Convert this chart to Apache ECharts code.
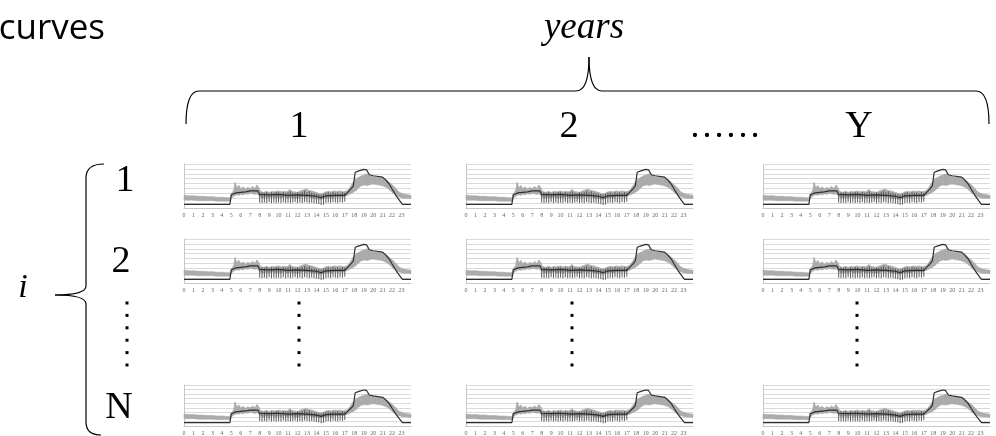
<!DOCTYPE html>
<html>
<head>
<meta charset="utf-8">
<script src="https://cdn.jsdelivr.net/npm/echarts@6/dist/echarts.min.js"></script>
<style>
html,body{margin:0;padding:0;background:#fff;}
#c{width:996px;height:436px;}
</style>
</head>
<body>
<div id="c"></div>
<script>
// ---- data (same profile drawn in every small panel) ----
var hourTicks = [0,1,2,3,4,5,6,7,8,9,10,11,12,13,14,15,16,17,18,19,20,21,22,23];
var columnLabels = ['1', '2', 'Y'];
var rowLabels = ['1', '2', 'N'];

// grey band of measured curves: hour, lower, upper
var bandHour = [0,0.5,1,1.5,2,2.5,3,3.5,4,4.5,4.9,5.0,5.25,5.4,5.6,5.8,6.0,6.25,6.5,6.75,7.0,7.25,7.5,7.7,7.9,8.1,8.4,8.7,9.0,9.3,9.6,10.0,10.3,10.6,10.9,11.2,11.4,11.7,12.0,12.3,12.6,12.9,13.2,13.5,13.8,14.1,14.4,14.7,15.0,15.3,15.6,15.9,16.2,16.5,16.8,17.0,17.3,17.6,17.9,18.2,18.5,18.8,19.1,19.4,19.7,20.0,20.3,20.6,20.9,21.2,21.5,21.8,22.1,22.4,22.7,23.0,23.3,23.6,24.0];
var bandLow  = [1.6,1.6,1.6,1.5,1.5,1.5,1.5,1.4,1.4,1.4,1.4,2.0,2.4,2.6,2.7,2.6,2.8,2.7,2.9,2.8,3.0,2.9,2.8,2.9,2.6,2.2,2.1,2.2,2.1,2.3,2.1,2.2,2.1,2.3,2.1,2.2,2.2,2.1,2.0,2.2,2.3,2.2,2.3,2.1,2.0,1.9,1.8,1.9,2.1,2.2,2.1,2.3,2.2,2.3,2.2,2.4,2.6,2.9,3.2,3.6,4.2,4.6,4.7,4.6,4.8,4.9,4.8,4.7,4.6,4.4,4.1,3.6,3.0,2.6,2.3,2.1,2.0,2.0,1.9];
var bandHigh = [2.6,2.5,2.5,2.4,2.4,2.3,2.3,2.2,2.2,2.1,2.1,2.9,3.6,5.2,4.2,4.6,4.0,4.3,3.9,4.2,4.0,4.4,4.0,4.7,4.2,3.4,3.2,3.4,3.2,3.4,3.3,3.5,3.3,3.4,3.3,3.8,3.4,3.3,3.2,3.5,3.7,3.9,3.6,3.5,3.3,3.1,2.9,3.0,3.3,3.4,3.3,3.5,3.4,3.5,3.3,3.4,3.6,4.4,5.3,6.0,6.3,6.6,6.8,7.0,6.6,6.4,6.3,6.3,6.2,5.9,5.6,5.1,4.6,4.0,3.3,3.0,2.8,2.7,2.6];

// dark vertical spread marks during the day: hour, low, high
var spreadHour = [8.0,8.25,8.5,8.75,9.0,9.25,9.5,9.75,10.0,10.25,10.5,10.75,11.0,11.25,11.5,11.75,12.0,12.25,12.5,12.75,13.0,13.25,13.5,13.75,14.0,14.25,14.5,14.75,15.0,15.25,15.5,15.75,16.0,16.25,16.5,16.75,17.0];
var spreadLow  = [1.1,1.0,1.1,1.0,1.2,1.0,1.1,1.0,1.1,1.0,1.2,1.0,1.1,1.0,1.1,1.2,1.0,1.1,1.0,1.2,1.1,1.0,1.1,1.0,0.9,0.8,0.6,0.7,1.0,1.1,1.0,1.2,1.1,1.0,1.2,1.1,1.3];
var spreadHigh = [3.0,3.2,3.1,3.3,3.0,3.2,3.1,3.3,3.2,3.0,3.3,3.1,3.2,3.4,3.1,3.0,3.2,3.1,3.3,3.5,3.2,3.4,3.1,3.0,2.9,2.8,2.7,2.9,3.1,3.2,3.0,3.3,3.1,3.2,3.0,3.3,3.1];

// black profile: hour, value
var lineHour  = [0,4.85,5.0,5.5,6.5,7.0,7.8,8.0,9.0,10.0,11.0,12.0,13.0,14.0,14.5,15.0,16.0,17.0,17.3,17.7,17.9,18.1,18.5,19.0,19.3,19.6,20.0,21.0,21.3,21.7,22.0,22.4,22.8,23.1,24.0];
var lineValue = [0.75,0.75,2.7,3.1,3.3,3.5,3.5,2.8,2.7,2.8,2.6,2.7,2.6,2.4,2.1,2.5,2.6,2.6,3.2,4.0,4.5,7.3,7.6,7.9,7.8,6.8,6.6,6.3,5.8,4.9,3.9,2.6,1.5,0.75,0.75];

// ---- layout ----
var colLeft = [184, 466, 763];
var rowTop = [164, 239, 385];
var panelW = 227, panelH = 44;

var bandSegs = [];
for (var i = 0; i < bandHour.length - 1; i++) {
  bandSegs.push([bandHour[i], bandLow[i], bandHigh[i], bandHour[i+1], bandLow[i+1], bandHigh[i+1]]);
}
var spreadData = spreadHour.map(function(h, i){ return [h, spreadLow[i], spreadHigh[i]]; });
var lineData = lineHour.map(function(h, i){ return [h, lineValue[i]]; });

var grids = [], xAxes = [], yAxes = [], series = [];
var g = 0;
for (var r = 0; r < 3; r++) {
  for (var c = 0; c < 3; c++) {
    grids.push({left: colLeft[c], top: rowTop[r], width: panelW, height: panelH});
    xAxes.push({
      gridIndex: g, type: 'value', min: 0, max: 24, interval: 1,
      axisLine: {show: true, lineStyle: {color: '#c8c8c8', width: 1}},
      axisTick: {show: false},
      splitLine: {show: false},
      axisLabel: {
        fontSize: 6, fontFamily: '"Liberation Serif", "DejaVu Serif", serif', color: '#666', margin: 4,
        formatter: function(v){ return v < 24 ? String(v) : ''; }
      }
    });
    yAxes.push({
      gridIndex: g, type: 'value', min: 0, max: 9, interval: 1,
      axisLine: {show: true, lineStyle: {color: '#c8c8c8', width: 1}},
      axisTick: {show: false},
      axisLabel: {show: false},
      splitLine: {show: true, lineStyle: {color: '#dadada', width: 1}}
    });
    series.push({
      type: 'custom', xAxisIndex: g, yAxisIndex: g, silent: true,
      data: bandSegs,
      encode: {x: [0, 3], y: [1, 2, 4, 5]},
      renderItem: function(params, api) {
        var a = api.coord([api.value(0), api.value(1)]);
        var b = api.coord([api.value(3), api.value(4)]);
        var cc = api.coord([api.value(3), api.value(5)]);
        var d = api.coord([api.value(0), api.value(2)]);
        return {type: 'polygon', shape: {points: [a, b, cc, d]},
          style: {fill: '#ababab', stroke: '#ababab', lineWidth: 0.6}};
      }
    });
    series.push({
      type: 'custom', xAxisIndex: g, yAxisIndex: g, silent: true,
      data: spreadData,
      encode: {x: 0, y: [1, 2]},
      renderItem: function(params, api) {
        var p1 = api.coord([api.value(0), api.value(1)]);
        var p2 = api.coord([api.value(0), api.value(2)]);
        return {type: 'line', shape: {x1: p1[0], y1: p1[1], x2: p2[0], y2: p2[1]},
          style: {stroke: '#4a4a4a', lineWidth: 0.9}};
      }
    });
    series.push({
      type: 'line', xAxisIndex: g, yAxisIndex: g, silent: true,
      data: lineData, symbol: 'none',
      lineStyle: {color: '#2e2e2e', width: 1.2}
    });
    g++;
  }
}

// ---- annotation text and braces ----
var braceStyle = {fill: 'none', stroke: '#000', lineWidth: 1.2};
function curve(x1, y1, cx, cy, x2, y2) {
  return {type: 'bezierCurve', shape: {x1: x1, y1: y1, x2: x2, y2: y2, cpx1: cx, cpy1: cy}, style: braceStyle};
}
function seg(x1, y1, x2, y2) {
  return {type: 'line', shape: {x1: x1, y1: y1, x2: x2, y2: y2}, style: braceStyle};
}
var graphic = [
  {type: 'text', style: {text: 'curves', x: 105, y: 12, align: 'right', verticalAlign: 'top',
    font: '35px "Open Sans"', fill: '#000'}},
  {type: 'text', style: {text: 'years', x: 584, y: 28, align: 'center', verticalAlign: 'middle',
    font: 'italic 37px "Liberation Serif"', fill: '#000'}},
  // top brace
  curve(186, 124, 186, 91, 199, 91),
  seg(199, 91, 576, 91),
  curve(576, 91, 589, 91, 589, 57),
  curve(589, 57, 589, 91, 602, 91),
  seg(602, 91, 976, 91),
  curve(976, 91, 989, 91, 989, 124),
  // left brace
  curve(104, 164, 86, 164, 86, 178),
  seg(86, 178, 86, 286),
  curve(86, 286, 86, 295, 55, 295),
  curve(55, 295, 86, 295, 86, 304),
  seg(86, 304, 86, 422),
  curve(86, 422, 86, 435, 101, 435),
  {type: 'text', style: {text: 'i', x: 23, y: 288, align: 'center', verticalAlign: 'middle',
    font: 'italic 34px "Liberation Serif"', fill: '#000'}},
  {type: 'text', style: {text: '……', x: 725, y: 128, align: 'center', verticalAlign: 'middle',
    font: '36px "Liberation Serif"', fill: '#000'}}
];
var colCenter = [299, 569, 859];
columnLabels.forEach(function(t, k){
  graphic.push({type: 'text', style: {text: t, x: colCenter[k], y: 127, align: 'center', verticalAlign: 'middle',
    font: '38px "Liberation Serif"', fill: '#000'}});
});
var rowCenterY = [181, 262, 408];
var rowCenterX = [125, 121, 119];
rowLabels.forEach(function(t, k){
  graphic.push({type: 'text', style: {text: t, x: rowCenterX[k], y: rowCenterY[k], align: 'center', verticalAlign: 'middle',
    font: '38px "Liberation Serif"', fill: '#000'}});
});
// vertical ellipsis dots
var dotCols = [127, 299, 572, 857];
dotCols.forEach(function(x){
  for (var k = 0; k < 6; k++) {
    graphic.push({type: 'rect', shape: {x: x - 1.5, y: 303 + k * 12.4 - 1.5, width: 3, height: 3},
      style: {fill: '#000'}});
  }
});

var chart = echarts.init(document.getElementById('c'), null, {renderer: 'canvas'});
chart.setOption({
  animation: false,
  backgroundColor: '#fff',
  grid: grids, xAxis: xAxes, yAxis: yAxes, series: series,
  graphic: graphic
});
</script>
</body>
</html>
